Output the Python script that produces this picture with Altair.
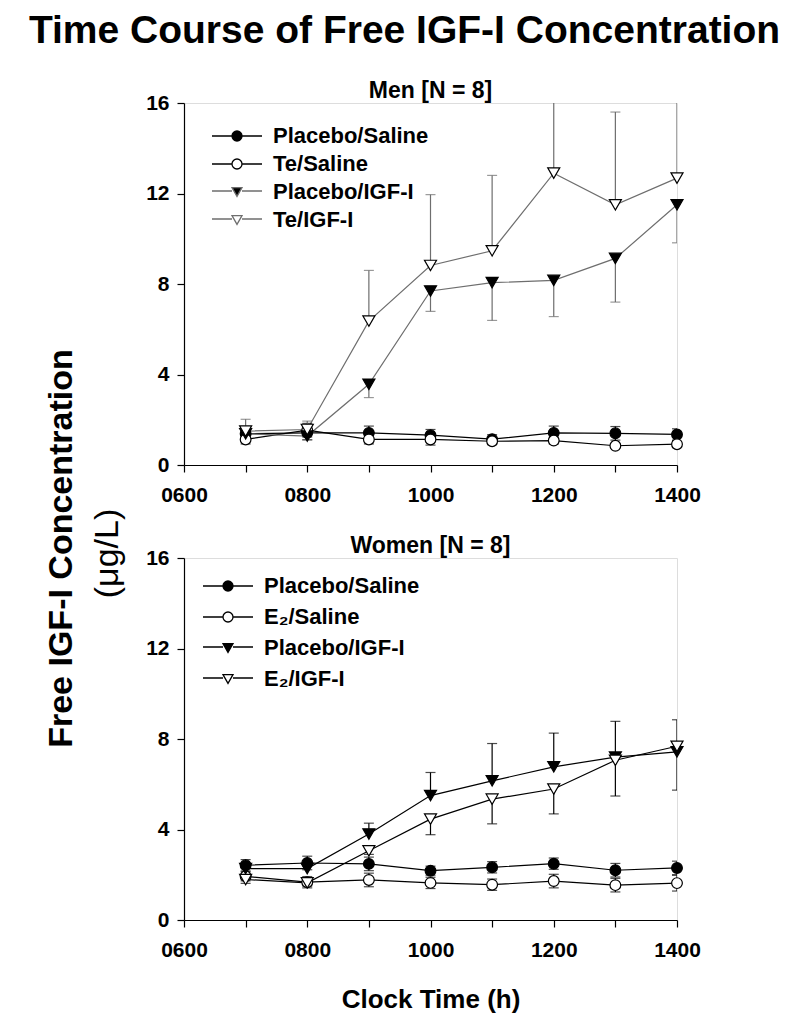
import altair as alt
import pandas as pd

FONT = "Liberation Sans"

hours = [7, 8, 9, 10, 11, 12, 13, 14]
x_tick_values = [6, 7, 8, 9, 10, 11, 12, 13, 14]
y_tick_values = [0, 4, 8, 12, 16]

# ---- Men [N = 8] ----
men_series = ["Placebo/Saline", "Te/Saline", "Placebo/IGF-I", "Te/IGF-I"]
men_placebo_saline = [1.38, 1.42, 1.42, 1.32, 1.14, 1.42, 1.40, 1.35]
men_placebo_saline_se = [0.25, 0.30, 0.30, 0.25, 0.20, 0.30, 0.30, 0.25]
men_te_saline = [1.13, 1.54, 1.13, 1.13, 1.05, 1.08, 0.85, 0.92]
men_te_saline_se = [0.20, 0.30, 0.20, 0.25, 0.15, 0.15, 0.10, 0.15]
men_placebo_igf = [1.38, 1.28, 3.57, 7.69, 8.06, 8.16, 9.13, 11.50]
men_placebo_igf_lower = [1.20, 1.10, 2.98, 6.79, 6.39, 6.56, 7.20, 9.82]
men_te_igf = [1.50, 1.57, 6.36, 8.82, 9.47, 12.90, 11.50, 12.68]
men_te_igf_upper = [2.02, 1.94, 8.60, 11.95, 12.80, 17.50, 15.60, 17.20]

# ---- Women [N = 8] ----
women_series = ["Placebo/Saline", "E\u2082/Saline", "Placebo/IGF-I", "E\u2082/IGF-I"]
women_placebo_saline = [2.42, 2.52, 2.48, 2.18, 2.33, 2.49, 2.20, 2.30]
women_placebo_saline_se = [0.25, 0.30, 0.30, 0.20, 0.25, 0.25, 0.30, 0.30]
women_e2_saline = [1.93, 1.67, 1.77, 1.64, 1.56, 1.72, 1.54, 1.63]
women_e2_saline_se = [0.20, 0.25, 0.30, 0.25, 0.25, 0.30, 0.30, 0.35]
women_placebo_igf = [2.27, 2.27, 3.80, 5.50, 6.15, 6.77, 7.20, 7.43]
women_placebo_igf_upper = [2.45, 2.45, 4.28, 6.52, 7.80, 8.26, 8.78, 8.85]
women_e2_igf = [1.79, 1.64, 3.06, 4.46, 5.34, 5.79, 7.06, 7.68]
women_e2_igf_lower = [1.62, 1.50, 2.90, 3.77, 4.25, 4.69, 5.48, 5.74]

GRAY = "#6e6e6e"


def series_frames(name, values, lo, hi):
    d = pd.DataFrame({"hour": hours, "value": values, "lo": lo, "hi": hi})
    d["series"] = name
    caps = []
    for h, v, l, u in zip(hours, values, lo, hi):
        if l < v - 1e-9:
            caps.append({"hour": h, "cap": l})
        if u > v + 1e-9:
            caps.append({"hour": h, "cap": u})
    return d, pd.DataFrame(caps)


def panel(title, title_offset, names, data, styles, leg_x, leg_y, leg_row_pad, show_x_title,
          y_title, y_title_weight, y_title_x, y_title_y):
    x_axis = alt.Axis(
        values=x_tick_values,
        labelExpr="datum.value % 2 == 0 ? (datum.value < 10 ? '0' : '') + datum.value + '00' : ''",
        labelFont=FONT, labelFontSize=21, labelFontWeight="bold", labelColor="black",
        labelPadding=12, tickSize=7, tickColor="black", domainColor="black",
        tickWidth=1.2, domainWidth=1.2, grid=False, labelFlush=False,
        title="Clock Time (h)" if show_x_title else None,
        titleFont=FONT, titleFontSize=26, titleFontWeight="bold", titleColor="black",
        titlePadding=26,
    )
    y_axis = alt.Axis(
        values=y_tick_values, labelFont=FONT, labelFontSize=21, labelFontWeight="bold",
        labelColor="black", labelPadding=8, tickSize=7, tickColor="black",
        domainColor="black", tickWidth=1.2, domainWidth=1.2, grid=False,
        title=y_title, titleFont=FONT, titleFontSize=34, titleFontWeight=y_title_weight,
        titleColor="black", titleAngle=-90, titleBaseline="middle", titleAlign="center",
        titleX=y_title_x, titleY=y_title_y,
    )
    xs = alt.X("hour:Q", scale=alt.Scale(domain=[6, 14], nice=False, zero=False), axis=x_axis)
    ys = alt.Y("value:Q", scale=alt.Scale(domain=[0, 16], nice=False), axis=y_axis)

    layers = []
    for name, (d, c) in zip(names, data):
        st = styles[name]
        layers.append(alt.Chart(d).mark_line(color=st["line"], strokeWidth=1.2).encode(x=xs, y=ys))
    for name, (d, c) in zip(names, data):
        st = styles[name]
        layers.append(alt.Chart(d).mark_rule(color=st["err"], strokeWidth=1.2, clip=True).encode(
            x="hour:Q", y="lo:Q", y2="hi:Q"))
        layers.append(alt.Chart(c).mark_tick(color=st["err"], orient="horizontal", size=10,
                                             thickness=1.2, clip=True).encode(
            x="hour:Q", y="cap:Q"))
    for name, (d, c) in zip(names, data):
        st = styles[name]
        layers.append(alt.Chart(d).mark_point(shape=st["shape"], filled=True, fill=st["fill"],
                                              stroke="black", strokeWidth=1.2, size=st["size"],
                                              opacity=1).encode(x="hour:Q", y="value:Q"))
    leg_df = pd.DataFrame({"series": names})
    dom = names
    leg = alt.Legend(
        title=None, orient="none", legendX=leg_x, legendY=leg_y, padding=0,
        labelFont=FONT, labelFontSize=22, labelFontWeight="bold", labelColor="black",
        symbolSize=100, symbolStrokeWidth=1.3, symbolOffset=24, labelOffset=25,
        rowPadding=leg_row_pad, symbolOpacity=1,
    )
    legend_layer = alt.Chart(leg_df).transform_filter("false").mark_point(
        filled=True, strokeWidth=1.3, opacity=1
    ).encode(
        shape=alt.Shape("series:N", scale=alt.Scale(domain=dom, range=[styles[n]["legshape"] for n in names]),
                        legend=leg, sort=dom),
        fill=alt.Fill("series:N", scale=alt.Scale(domain=dom, range=[styles[n]["fill"] for n in names]),
                      legend=leg, sort=dom),
        stroke=alt.Stroke("series:N", scale=alt.Scale(domain=dom, range=[styles[n]["line"] for n in names]),
                          legend=leg, sort=dom),
    )
    layers.append(legend_layer)
    return alt.layer(*layers).properties(
        width=493, height=362,
        title=alt.TitleParams(title, font=FONT, fontSize=23, fontWeight="bold", color="black",
                              anchor="middle", offset=title_offset),
    )


CIRCLE_LEG = "M-5,0L-1,0M1,0L5,0M-1,0A1,1 0 1,1 1,0A1,1 0 1,1 -1,0Z"
TRI_LEG = "M-5,-0.2L-1,-0.2M1,-0.2L5,-0.2M0,0.866L1,-0.866L-1,-0.866Z"


def style(line, err, shape, fill, size, legshape):
    return {"line": line, "err": err, "shape": shape, "fill": fill, "size": size, "legshape": legshape}


men_styles = {
    men_series[0]: style("black", "black", "circle", "black", 115, CIRCLE_LEG),
    men_series[1]: style("black", "black", "circle", "white", 115, CIRCLE_LEG),
    men_series[2]: style(GRAY, GRAY, "triangle-down", "black", 145, TRI_LEG),
    men_series[3]: style(GRAY, GRAY, "triangle-down", "white", 145, TRI_LEG),
}
women_styles = {
    women_series[0]: style("black", "black", "circle", "black", 115, CIRCLE_LEG),
    women_series[1]: style("black", "black", "circle", "white", 115, CIRCLE_LEG),
    women_series[2]: style("black", "black", "triangle-down", "black", 145, TRI_LEG),
    women_series[3]: style("black", "black", "triangle-down", "white", 145, TRI_LEG),
}

men_data = [
    series_frames(men_series[0], men_placebo_saline,
                  [v - e for v, e in zip(men_placebo_saline, men_placebo_saline_se)],
                  [v + e for v, e in zip(men_placebo_saline, men_placebo_saline_se)]),
    series_frames(men_series[1], men_te_saline,
                  [v - e for v, e in zip(men_te_saline, men_te_saline_se)],
                  [v + e for v, e in zip(men_te_saline, men_te_saline_se)]),
    series_frames(men_series[2], men_placebo_igf, men_placebo_igf_lower, men_placebo_igf),
    series_frames(men_series[3], men_te_igf, men_te_igf, men_te_igf_upper),
]
women_data = [
    series_frames(women_series[0], women_placebo_saline,
                  [v - e for v, e in zip(women_placebo_saline, women_placebo_saline_se)],
                  [v + e for v, e in zip(women_placebo_saline, women_placebo_saline_se)]),
    series_frames(women_series[1], women_e2_saline,
                  [v - e for v, e in zip(women_e2_saline, women_e2_saline_se)],
                  [v + e for v, e in zip(women_e2_saline, women_e2_saline_se)]),
    series_frames(women_series[2], women_placebo_igf, women_placebo_igf, women_placebo_igf_upper),
    series_frames(women_series[3], women_e2_igf, women_e2_igf_lower, women_e2_igf),
]

top = panel("Men [N = 8]", -11, men_series, men_data, men_styles, 18, 22, 6, False,
            "Free IGF-I Concentration", "bold", -123, 445)
bottom = panel("Women [N = 8]", -50, women_series, women_data, women_styles, 9, 17, 9, True,
               "(\u03bcg/L)", "normal", -77, -5)

chart = alt.vconcat(top, bottom, spacing=93, bounds="flush").resolve_scale(
    shape="independent", fill="independent", stroke="independent"
).resolve_legend(shape="independent", fill="independent", stroke="independent").properties(
    title=alt.TitleParams("Time Course of Free IGF-I Concentration", font=FONT, fontSize=39,
                          fontWeight="bold", color="black", anchor="middle", frame="group",
                          dx=-26, offset=29),
    padding={"left": 20, "top": 3, "right": 0, "bottom": 5},
).configure_view(stroke=None).configure(background="white")

chart.save("out.html", embed_options={"renderer": "svg", "actions": False})
